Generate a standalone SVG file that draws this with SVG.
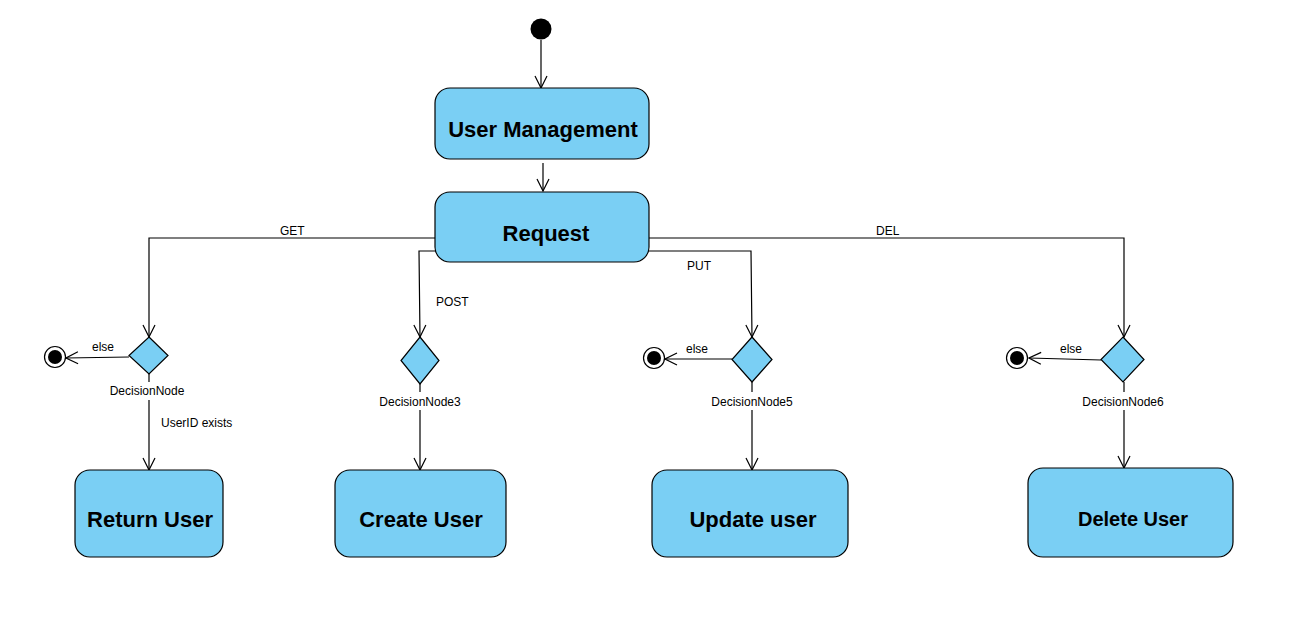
<svg xmlns="http://www.w3.org/2000/svg" width="1291" height="635" viewBox="0 0 1291 635">
<style>
.act{fill:#7ACFF4;stroke:#000;stroke-width:1.2}
.dec{fill:#7ACFF4;stroke:#000;stroke-width:1.2}
.big{font-family:"Liberation Sans",Arial,sans-serif;font-weight:bold;font-size:22px;fill:#000;text-anchor:middle}
.sm{font-family:"Liberation Sans",Arial,sans-serif;font-size:12px;fill:#000}
.mid{text-anchor:middle}
.ln{fill:none;stroke:#000;stroke-width:1.2}
</style>
<defs>
<marker id="open" viewBox="0 0 14 14" refX="13" refY="7" markerWidth="14" markerHeight="14" markerUnits="userSpaceOnUse" orient="auto">
<path d="M1,1 L13,7 L1,13" fill="none" stroke="#000" stroke-width="1.2"/>
</marker>
</defs>
<rect width="1291" height="635" fill="#fff"/>
<g id="connectors">
<path class="ln" d="M541,40 L541,88" marker-end="url(#open)"/>
<path class="ln" d="M543,163 L543,191" marker-end="url(#open)"/>
<path class="ln" d="M435,238 L149,238 L149,337" marker-end="url(#open)"/>
<path class="ln" d="M435,251 L419,251 L420,337" marker-end="url(#open)"/>
<path class="ln" d="M649,251 L751,251 L752,337" marker-end="url(#open)"/>
<path class="ln" d="M649,238 L1124,238 L1124,337" marker-end="url(#open)"/>
<path class="ln" d="M129,357 L66,358" marker-end="url(#open)"/>
<path class="ln" d="M732,359 L665,359" marker-end="url(#open)"/>
<path class="ln" d="M1101,360 L1029,358" marker-end="url(#open)"/>
<path class="ln" d="M149,374 L149,382 M149,400 L149,470" marker-end="url(#open)"/>
<path class="ln" d="M420,384 L420,392 M420,410 L420,470" marker-end="url(#open)"/>
<path class="ln" d="M752,382 L752,392 M752,410 L752,470" marker-end="url(#open)"/>
<path class="ln" d="M1124,382 L1124,392 M1124,410 L1124,468" marker-end="url(#open)"/>
<text class="sm" x="280" y="235">GET</text>
<text class="sm" x="436" y="306">POST</text>
<text class="sm" x="687" y="270">PUT</text>
<text class="sm" x="876" y="235">DEL</text>
<text class="sm" x="92" y="351">else</text>
<text class="sm" x="686" y="353">else</text>
<text class="sm" x="1060" y="353">else</text>
<text class="sm" x="161" y="427">UserID exists</text>
</g>
<g id="initial"><circle cx="541" cy="29" r="10.5" fill="#000"/></g>
<g id="userManagement"><rect class="act" x="435" y="88" width="214" height="71" rx="15"/><text class="big" x="543" y="137">User Management</text></g>
<g id="request"><rect class="act" x="435" y="192" width="214" height="70" rx="15"/><text class="big" x="546" y="241">Request</text></g>
<g id="decisionNode"><polygon class="dec" points="149,337 168,355.5 149,374 129,355.5"/><text class="sm mid" x="147" y="395">DecisionNode</text></g>
<g id="decisionNode3"><polygon class="dec" points="420,337 439,360.5 420,384 401,360.5"/><text class="sm mid" x="420" y="406">DecisionNode3</text></g>
<g id="decisionNode5"><polygon class="dec" points="752,337 772,359.5 752,382 732,359.5"/><text class="sm mid" x="752" y="406">DecisionNode5</text></g>
<g id="decisionNode6"><polygon class="dec" points="1123,337 1144,359.5 1123,382 1101,359.5"/><text class="sm mid" x="1123" y="406">DecisionNode6</text></g>
<g id="final1"><circle cx="55" cy="357" r="10.5" fill="#fff" stroke="#000" stroke-width="1.2"/><circle cx="55" cy="357" r="7" fill="#000"/></g>
<g id="final2"><circle cx="654" cy="358" r="10.5" fill="#fff" stroke="#000" stroke-width="1.2"/><circle cx="654" cy="358" r="7" fill="#000"/></g>
<g id="final3"><circle cx="1017" cy="358" r="10.5" fill="#fff" stroke="#000" stroke-width="1.2"/><circle cx="1017" cy="358" r="7" fill="#000"/></g>
<g id="returnUser"><rect class="act" x="75" y="470" width="148" height="87" rx="15"/><text class="big" x="150" y="527">Return User</text></g>
<g id="createUser"><rect class="act" x="335" y="470" width="171" height="87" rx="15"/><text class="big" x="421" y="527">Create User</text></g>
<g id="updateUser"><rect class="act" x="652" y="470" width="196" height="87" rx="15"/><text class="big" x="753" y="527">Update user</text></g>
<g id="deleteUser"><rect class="act" x="1028" y="468" width="205" height="89" rx="15"/><text class="big" x="1133" y="526" style="font-size:20px">Delete User</text></g>
</svg>
